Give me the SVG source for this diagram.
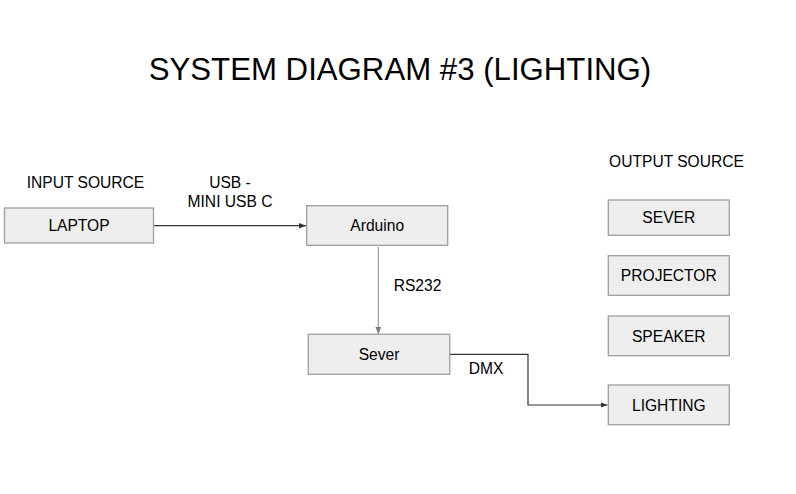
<svg xmlns="http://www.w3.org/2000/svg" width="796" height="494" viewBox="0 0 796 494">
<defs>
<style>
text{font-family:"Liberation Sans",Arial,sans-serif;fill:#000}
.box{fill:#eeeeee;stroke:#9e9e9e;stroke-width:1.3}
.lbl{font-size:15.6px;text-anchor:middle}
.cn{fill:none;stroke-width:1.2}
</style>
<marker id="ah" viewBox="0 0 10 10" refX="10" refY="5" markerWidth="7" markerHeight="7" markerUnits="userSpaceOnUse" orient="auto"><path d="M0,1 L10,5 L0,9 Z" fill="#333"/></marker>
<marker id="ahg" viewBox="0 0 10 10" refX="10" refY="5" markerWidth="7" markerHeight="7" markerUnits="userSpaceOnUse" orient="auto"><path d="M0,1 L10,5 L0,9 Z" fill="#777"/></marker>
</defs>
<rect width="796" height="494" fill="#fff"/>
<text x="400" y="80" font-size="31.2" text-anchor="middle">SYSTEM DIAGRAM #3 (LIGHTING)</text>
<text class="lbl" x="85.5" y="188">INPUT SOURCE</text>
<text class="lbl" x="676.5" y="167">OUTPUT SOURCE</text>
<g id="connectors">
<path class="cn" d="M153.5,225.7 H306" stroke="#333" marker-end="url(#ah)"/>
<path class="cn" d="M378.3,247 V334" stroke="#999" marker-end="url(#ahg)"/>
<path class="cn" d="M449.7,354.3 H528 V405 H607.5" stroke="#333" marker-end="url(#ah)"/>
<text class="lbl" x="230" y="188">USB -</text>
<text class="lbl" x="230" y="207">MINI USB C</text>
<text class="lbl" x="417.5" y="291">RS232</text>
<text class="lbl" x="486" y="374">DMX</text>
</g>
<g id="laptop"><rect class="box" x="4.5" y="208" width="149" height="35"/><text class="lbl" x="79" y="231">LAPTOP</text></g>
<g id="arduino"><rect class="box" x="306.7" y="205.7" width="141" height="39.6"/><text class="lbl" x="377.2" y="231">Arduino</text></g>
<g id="sever"><rect class="box" x="308.3" y="334.3" width="141.4" height="40"/><text class="lbl" x="379" y="360">Sever</text></g>
<g id="out-sever"><rect class="box" x="608.3" y="200" width="121" height="35.3"/><text class="lbl" x="668.8" y="223">SEVER</text></g>
<g id="projector"><rect class="box" x="608.3" y="255.7" width="121" height="39.6"/><text class="lbl" x="668.8" y="281">PROJECTOR</text></g>
<g id="speaker"><rect class="box" x="608.3" y="316" width="121" height="39.7"/><text class="lbl" x="668.8" y="341.5">SPEAKER</text></g>
<g id="lighting"><rect class="box" x="608.3" y="385" width="121" height="39.7"/><text class="lbl" x="668.8" y="410.5">LIGHTING</text></g>
</svg>
